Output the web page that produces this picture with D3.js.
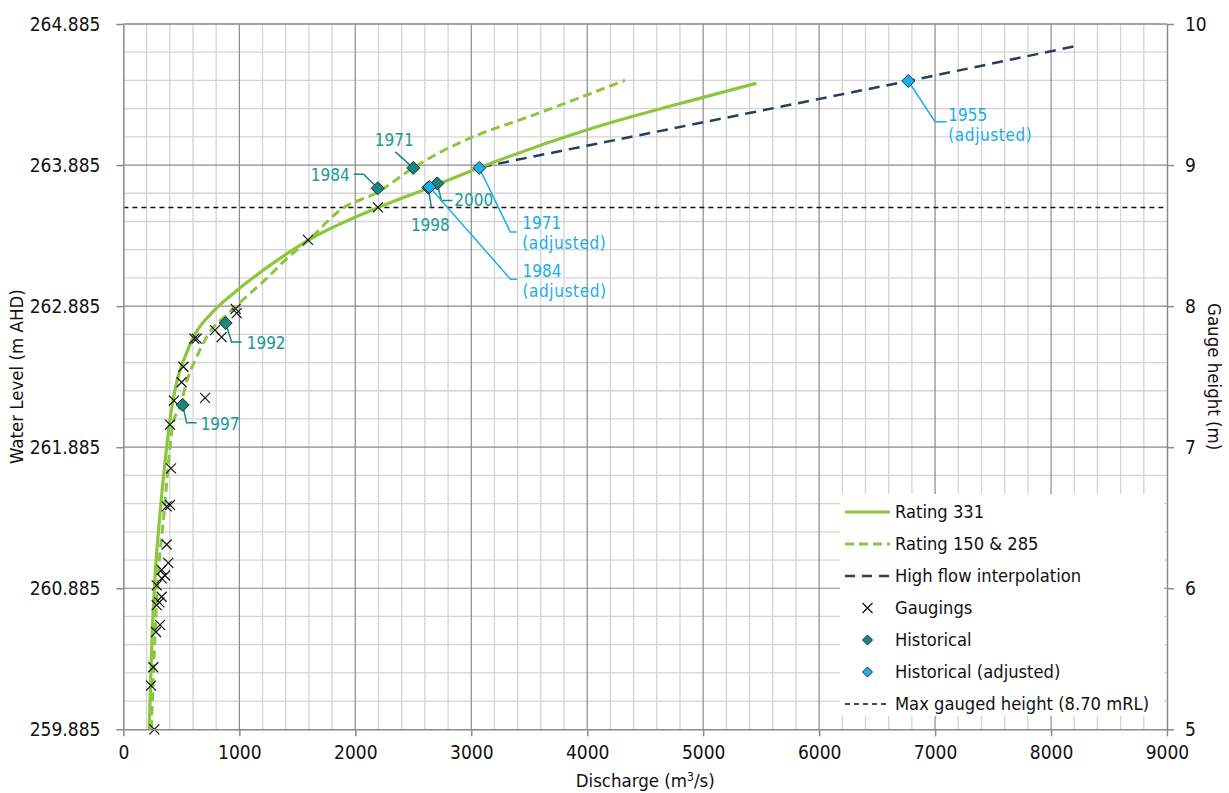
<!DOCTYPE html>
<html>
<head>
<meta charset="utf-8">
<script src="https://cdn.jsdelivr.net/npm/d3@7"></script>
<style>
body { margin: 0; background: #fff; }
text { font-family: "DejaVu Sans Condensed", "DejaVu Sans", sans-serif; fill: #111; }
</style>
</head>
<body>
<svg id="chart" width="1229" height="793"></svg>
<script>
//////////////////// DATA ////////////////////
// gauge zero in m AHD
const gaugeZero = 254.885;

// rating 331 (discharge m3/s, gauge height m)
const rating331Q = [223, 244, 267, 316, 373, 396, 465, 531, 617, 761, 948, 1092, 1300, 1600, 2200, 2640, 3080, 4000, 5000, 5460];
const rating331H = [5.0, 5.585, 6.0, 6.53, 7.0, 7.16, 7.48, 7.64, 7.8, 7.95, 8.09, 8.185, 8.31, 8.47, 8.7, 8.84, 8.985, 9.25, 9.48, 9.58];

// rating 150 & 285
const rating150Q = [240, 293, 350, 402, 425, 488, 551, 632, 732, 905, 1092, 1221, 1400, 1600, 1868, 2198, 2500, 2730, 3075, 3420, 4325];
const rating150H = [5.0, 6.0, 6.53, 7.0, 7.16, 7.29, 7.48, 7.64, 7.8, 7.95, 8.09, 8.185, 8.33, 8.47, 8.68, 8.81, 8.98, 9.09, 9.22, 9.32, 9.60];

// high flow interpolation
const highFlowQ = [3080, 6769, 8250];
const highFlowH = [8.985, 9.596, 9.85];

// gaugings
const gaugingQ = [267, 238, 258, 281, 316, 287, 310, 330, 287, 330, 359, 330, 387, 373, 373, 402, 410, 402, 436, 704, 502, 517, 611, 632, 790, 847, 968, 977, 1592, 2195];
const gaugingH = [5.0, 5.31, 5.44, 5.69, 5.74, 5.88, 5.90, 5.94, 6.02, 6.07, 6.09, 6.13, 6.18, 6.31, 6.58, 6.59, 6.85, 7.16, 7.33, 7.35, 7.46, 7.57, 7.77, 7.77, 7.83, 7.78, 7.98, 7.95, 8.47, 8.70];

// historical floods
const historicalYears = ["1984", "1971", "2000", "1998", "1992", "1997"];
const historicalQ = [2193, 2500, 2707, 2630, 882, 511];
const historicalH = [8.835, 8.98, 8.87, 8.84, 7.88, 7.30];

// historical floods (adjusted)
const adjustedYears = ["1984", "1971", "1955"];
const adjustedQ = [2640, 3069, 6769];
const adjustedH = [8.845, 8.98, 9.596];

// max gauged height
const maxGauged = 8.70;

// axis ticks
const levelTicks = [259.885, 260.885, 261.885, 262.885, 263.885, 264.885];
const gaugeTicks = [5, 6, 7, 8, 9, 10];
const dischargeTicks = [0, 1000, 2000, 3000, 4000, 5000, 6000, 7000, 8000, 9000];

// legend entries
const legendLabels = ["Rating 331", "Rating 150 & 285", "High flow interpolation", "Gaugings", "Historical", "Historical (adjusted)", "Max gauged height (8.70 mRL)"];
const legendKinds = ["rating331", "rating150", "highFlow", "gauging", "historical", "adjusted", "maxLine"];


//////////////////// STYLES / LAYOUT ////////////////////
const colors = {
    green: "#8cc63f",
    navy: "#243f60",
    teal: "#17877f",
    tealText: "#1a9a90",
    blue: "#1cb0ea",
    blueText: "#17aee8",
    major: "#8a8a8a",
    minor: "#d4d4d4"
};

const plot = { left: 123.4, right: 1167, top: 24, bottom: 729.3 };

// callout layout: [elbow dx, elbow dy, end dx, end dy, text dx, text dy, anchor]
const historicalCallouts = {
    "1984": [-14, -14, -24, -14, -28, -13, "end"],
    "1971": [-18, -16, -18, -16, -19, -28, "middle"],
    "2000": [4, 17, 15, 17, 17, 17, "start"],
    "1998": [3, 20, 3, 20, 2, 37, "middle"],
    "1992": [6, 19, 16, 19, 21, 20, "start"],
    "1997": [4, 18, 14, 18, 18, 19, "start"]
};
const adjustedCallouts = {
    "1984": [81, 92.3, 88, 92.3, 93, 84],
    "1971": [31, 64, 37.5, 64, 43, 55.6],
    "1955": [26.7, 40.7, 38.4, 40.7, 40, 34]
};


//////////////////// SCALES ////////////////////
const svg = d3.select("#chart");

const xScale = d3.scaleLinear().domain([0, 9000]).range([plot.left, plot.right]);
const yScale = d3.scaleLinear().domain([259.885, 264.885]).range([plot.bottom, plot.top]);
const gaugeScale = d3.scaleLinear().domain([5, 10]).range([plot.bottom, plot.top]);


//////////////////// GRID ////////////////////
const grid = svg.append("g");

// minor vertical
grid.selectAll(".vminor")
    .data(d3.range(200, 9000, 200).filter(d => d % 1000 !== 0))
    .join("line")
    .attr("x1", d => xScale(d)).attr("x2", d => xScale(d))
    .attr("y1", plot.top).attr("y2", plot.bottom)
    .attr("stroke", colors.minor).attr("stroke-width", 1.3);

// minor horizontal
grid.selectAll(".hminor")
    .data(d3.range(1, 25).filter(d => d % 5 !== 0).map(d => 5 + d * 0.2))
    .join("line")
    .attr("x1", plot.left).attr("x2", plot.right)
    .attr("y1", d => gaugeScale(d)).attr("y2", d => gaugeScale(d))
    .attr("stroke", colors.minor).attr("stroke-width", 1.3);

// major vertical
grid.selectAll(".vmajor")
    .data(dischargeTicks.slice(1, -1))
    .join("line")
    .attr("x1", d => xScale(d)).attr("x2", d => xScale(d))
    .attr("y1", plot.top).attr("y2", plot.bottom)
    .attr("stroke", colors.major).attr("stroke-width", 1.2);

// major horizontal
grid.selectAll(".hmajor")
    .data(levelTicks.slice(1, -1))
    .join("line")
    .attr("x1", plot.left).attr("x2", plot.right)
    .attr("y1", d => yScale(d)).attr("y2", d => yScale(d))
    .attr("stroke", colors.major).attr("stroke-width", 1.2);


//////////////////// LEGEND BOX ////////////////////
const legend = svg.append("g").attr("transform", "translate(840, 494)");
legend.append("rect")
    .attr("width", 324).attr("height", 222)
    .attr("fill", "#fff");


//////////////////// LINES ////////////////////
const line = d3.line()
    .x(d => xScale(d[0]))
    .y(d => gaugeScale(d[1]))
    .curve(d3.curveMonotoneX);

// max gauged height
svg.append("line")
    .attr("x1", plot.left).attr("x2", plot.right)
    .attr("y1", gaugeScale(maxGauged)).attr("y2", gaugeScale(maxGauged))
    .attr("stroke", "#111").attr("stroke-width", 1.5)
    .attr("stroke-dasharray", "5,4");

svg.append("path")
    .datum(d3.zip(rating150Q, rating150H))
    .attr("d", line)
    .attr("fill", "none")
    .attr("stroke", colors.green).attr("stroke-width", 3)
    .attr("stroke-dasharray", "9,5");

svg.append("path")
    .datum(d3.zip(highFlowQ, highFlowH))
    .attr("d", d3.line().x(d => xScale(d[0])).y(d => gaugeScale(d[1])))
    .attr("fill", "none")
    .attr("stroke", colors.navy).attr("stroke-width", 2.5)
    .attr("stroke-dasharray", "11,7");

svg.append("path")
    .datum(d3.zip(rating331Q, rating331H))
    .attr("d", line)
    .attr("fill", "none")
    .attr("stroke", colors.green).attr("stroke-width", 3.2);


//////////////////// GAUGINGS ////////////////////
svg.append("g").selectAll("path")
    .data(d3.zip(gaugingQ, gaugingH))
    .join("path")
    .attr("transform", d => `translate(${xScale(d[0])},${gaugeScale(d[1])})`)
    .attr("d", "M-5,-5L5,5M-5,5L5,-5")
    .attr("stroke", "#111").attr("stroke-width", 1.2);


//////////////////// CALLOUTS ////////////////////
function drawCallouts(years, qs, hs, layout, lineColor, textColor, twoLine) {
    const g = svg.append("g");
    years.forEach((yr, i) => {
        const px = xScale(qs[i]), py = gaugeScale(hs[i]);
        const c = layout[yr];
        g.append("polyline")
            .attr("points", [[px, py], [px + c[0], py + c[1]], [px + c[2], py + c[3]]].join(" "))
            .attr("fill", "none")
            .attr("stroke", lineColor).attr("stroke-width", 1.5);
        g.append("text")
            .attr("x", px + c[4]).attr("y", py + c[5])
            .attr("dy", "0.35em")
            .attr("text-anchor", c[6] || "start")
            .style("font-size", "17px")
            .style("fill", textColor)
            .text(yr);
        if (twoLine) {
            g.append("text")
                .attr("x", px + c[4]).attr("y", py + c[5] + 20)
                .attr("dy", "0.35em")
                .style("font-size", "17px")
                .style("letter-spacing", "0.6px")
                .style("fill", textColor)
                .text("(adjusted)");
        }
    });
}

drawCallouts(historicalYears, historicalQ, historicalH, historicalCallouts, colors.teal, colors.tealText, false);
drawCallouts(adjustedYears, adjustedQ, adjustedH, adjustedCallouts, colors.blue, colors.blueText, true);


//////////////////// DIAMONDS ////////////////////
function diamond(s) {
    return `M0,${-s}L${s},0L0,${s}L${-s},0Z`;
}

svg.append("g").selectAll("path")
    .data(d3.zip(historicalQ, historicalH))
    .join("path")
    .attr("transform", d => `translate(${xScale(d[0])},${gaugeScale(d[1])})`)
    .attr("d", diamond(6.5))
    .attr("fill", colors.teal).attr("stroke", "#1d2b2b").attr("stroke-width", 1);

svg.append("g").selectAll("path")
    .data(d3.zip(adjustedQ, adjustedH))
    .join("path")
    .attr("transform", d => `translate(${xScale(d[0])},${gaugeScale(d[1])})`)
    .attr("d", diamond(6.5))
    .attr("fill", colors.blue).attr("stroke", "#1d2b3b").attr("stroke-width", 1);


//////////////////// LEGEND ITEMS ////////////////////
const rowY = i => 18 + i * 32;

legendKinds.forEach((kind, i) => {
    const y = rowY(i);
    const row = legend.append("g");
    if (kind === "rating331") {
        row.append("line").attr("x1", 5).attr("x2", 50).attr("y1", y).attr("y2", y)
            .attr("stroke", colors.green).attr("stroke-width", 3.2);
    } else if (kind === "rating150") {
        row.append("line").attr("x1", 5).attr("x2", 50).attr("y1", y).attr("y2", y)
            .attr("stroke", colors.green).attr("stroke-width", 3).attr("stroke-dasharray", "9,5");
    } else if (kind === "highFlow") {
        row.append("line").attr("x1", 5).attr("x2", 50).attr("y1", y).attr("y2", y)
            .attr("stroke", colors.navy).attr("stroke-width", 2.5).attr("stroke-dasharray", "10,7");
    } else if (kind === "gauging") {
        row.append("path").attr("transform", `translate(27.5,${y})`)
            .attr("d", "M-5,-5L5,5M-5,5L5,-5")
            .attr("stroke", "#111").attr("stroke-width", 1.2);
    } else if (kind === "historical") {
        row.append("path").attr("transform", `translate(27.5,${y})`)
            .attr("d", diamond(5))
            .attr("fill", colors.teal).attr("stroke", "#1d2b2b");
    } else if (kind === "adjusted") {
        row.append("path").attr("transform", `translate(27.5,${y})`)
            .attr("d", diamond(5))
            .attr("fill", colors.blue).attr("stroke", "#1d2b3b");
    } else {
        row.append("line").attr("x1", 5).attr("x2", 50).attr("y1", y).attr("y2", y)
            .attr("stroke", "#111").attr("stroke-width", 1.5).attr("stroke-dasharray", "5,4");
    }
    row.append("text")
        .attr("x", 55).attr("y", y)
        .attr("dy", "0.35em")
        .style("font-size", "18.2px")
        .text(legendLabels[i]);
});


//////////////////// AXES ////////////////////
function styleAxis(g) {
    g.select(".domain").attr("stroke", colors.major).attr("stroke-width", 1.5);
    g.selectAll(".tick line").attr("stroke", colors.major).attr("stroke-width", 1.5);
    g.selectAll(".tick text").style("font-size", "19px").attr("fill", "#111");
}

// left axis
svg.append("g")
    .attr("transform", `translate(${plot.left},0)`)
    .call(d3.axisLeft(yScale).tickValues(levelTicks).tickFormat(d3.format(".3f")).tickSize(7).tickPadding(16).tickSizeOuter(0))
    .call(styleAxis);

// right axis
svg.append("g")
    .attr("transform", `translate(${plot.right},0)`)
    .call(d3.axisRight(gaugeScale).tickValues(gaugeTicks).tickFormat(d3.format("d")).tickSize(7).tickPadding(11).tickSizeOuter(0))
    .call(styleAxis);

// bottom axis
svg.append("g")
    .attr("transform", `translate(0,${plot.bottom})`)
    .call(d3.axisBottom(xScale).tickValues(dischargeTicks).tickFormat(d3.format("d")).tickSize(7).tickPadding(9).tickSizeOuter(0))
    .call(styleAxis);

// top border
svg.append("line")
    .attr("x1", plot.left).attr("x2", plot.right)
    .attr("y1", plot.top).attr("y2", plot.top)
    .attr("stroke", colors.major).attr("stroke-width", 1.5);


//////////////////// AXIS TITLES ////////////////////
svg.append("text")
    .attr("transform", `rotate(-90, 17, ${(plot.top + plot.bottom) / 2})`)
    .attr("x", 17).attr("y", (plot.top + plot.bottom) / 2)
    .attr("dy", "0.35em")
    .attr("text-anchor", "middle")
    .style("font-size", "18.5px")
    .text("Water Level (m AHD)");

svg.append("text")
    .attr("transform", `rotate(90, 1214, ${(plot.top + plot.bottom) / 2})`)
    .attr("x", 1214).attr("y", (plot.top + plot.bottom) / 2)
    .attr("dy", "0.35em")
    .attr("text-anchor", "middle")
    .style("font-size", "18.5px")
    .text("Gauge height (m)");

const xTitle = svg.append("text")
    .attr("x", (plot.left + plot.right) / 2).attr("y", 781)
    .attr("dy", "0.35em")
    .attr("text-anchor", "middle")
    .style("font-size", "18.5px");
xTitle.append("tspan").text("Discharge (m");
xTitle.append("tspan").attr("dy", -6).style("font-size", "12px").text("3");
xTitle.append("tspan").attr("dy", 6).text("/s)");
</script>
</body>
</html>
